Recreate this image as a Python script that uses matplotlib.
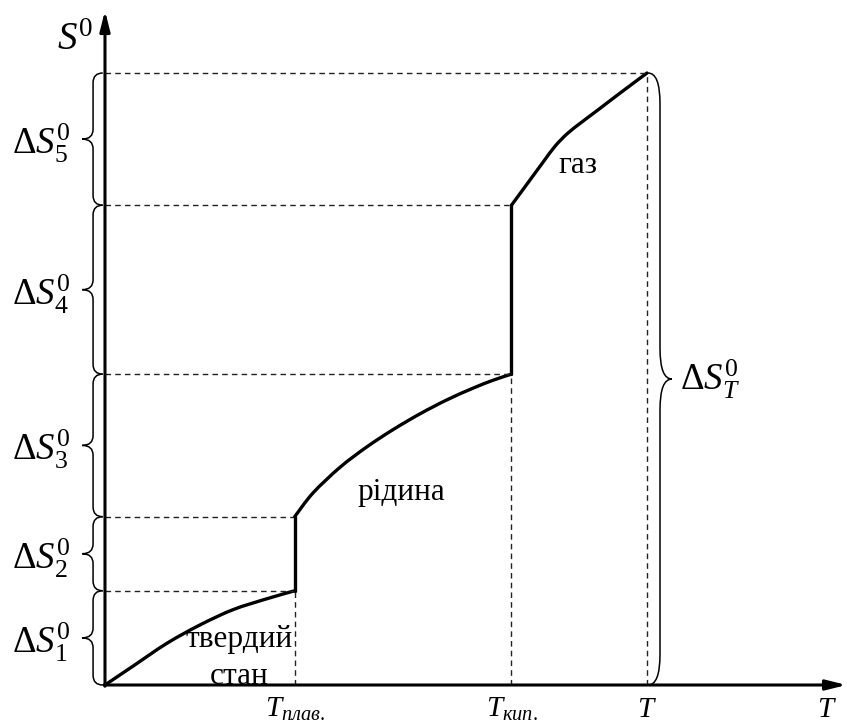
import matplotlib
matplotlib.use("Agg")
import matplotlib.pyplot as plt
from matplotlib.path import Path
from matplotlib.patches import PathPatch

plt.rcParams["mathtext.fontset"] = "custom"
plt.rcParams["mathtext.rm"] = "Liberation Serif"
plt.rcParams["mathtext.it"] = "Liberation Serif:italic"
plt.rcParams["mathtext.bf"] = "Liberation Serif:bold"
plt.rcParams["font.family"] = ["Liberation Serif", "DejaVu Serif"]

# Phase transition temperatures (arbitrary units) and the final temperature
T_melt = 35.0
T_boil = 75.0
T_final = 100.0

# Entropy at the transitions (arbitrary units)
S_solid_melt = 15.4
S_liquid_melt = 27.5
S_liquid_boil = 50.8
S_gas_boil = 78.4
S_final = 100.0

# S(T) for each phase
solid_T = [0.0, 5.2, 11.4, 17.5, 23.6, 29.9, 35.0]
solid_S = [0.0, 3.1, 6.8, 9.8, 12.3, 14.1, 15.4]
liquid_T = [35.0, 38.4, 43.4, 48.3, 53.1, 58.1, 63.1, 67.9, 71.6, 75.0]
liquid_S = [27.5, 31.4, 35.6, 38.9, 41.7, 44.3, 46.6, 48.5, 49.8, 50.8]
gas_T = [75.0, 77.9, 80.8, 83.0, 85.3, 88.0, 91.0, 95.0, 100.0]
gas_S = [78.4, 81.9, 85.4, 88.0, 90.1, 92.0, 94.0, 96.7, 100.0]

delta_labels = [r"$\Delta S_1^0$", r"$\Delta S_2^0$", r"$\Delta S_3^0$",
                r"$\Delta S_4^0$", r"$\Delta S_5^0$"]
levels = [0.0, S_solid_melt, S_liquid_melt, S_liquid_boil, S_gas_boil, S_final]

fig = plt.figure(figsize=(8.47, 7.26), dpi=100)
ax = fig.add_axes([0, 0, 1, 1])
ax.set_xlim(-19.37, 136.9)
ax.set_ylim(-6.70, 111.93)
ax.axis("off")

dash = dict(color="#222222", lw=1.0, ls=(0, (4, 3)))

# guide lines to the axes
for T, S in [(T_melt, S_solid_melt), (T_melt, S_liquid_melt),
             (T_boil, S_liquid_boil), (T_boil, S_gas_boil),
             (T_final, S_final)]:
    ax.plot([0, T], [S, S], **dash)
for T, S in [(T_melt, S_solid_melt), (T_boil, S_liquid_boil), (T_final, S_final)]:
    ax.plot([T, T], [0, S], **dash)

# axes with arrows
arrow = dict(arrowstyle="-|>,head_length=1.2,head_width=0.3", lw=2.2,
             color="black", shrinkA=0, shrinkB=0)
ax.annotate("", xy=(0, 110.2), xytext=(0, -0.2), arrowprops=arrow)
ax.annotate("", xy=(136.8, 0), xytext=(-0.2, 0), arrowprops=arrow)


def smooth_curve(xs, ys, **kw):
    """Catmull-Rom spline through the given points, drawn as cubic Beziers."""
    pts = list(zip(xs, ys))
    n = len(pts)
    verts = [pts[0]]
    codes = [Path.MOVETO]
    for i in range(n - 1):
        p0 = pts[i - 1] if i > 0 else pts[i]
        p1 = pts[i]
        p2 = pts[i + 1]
        p3 = pts[i + 2] if i + 2 < n else pts[i + 1]
        c1 = (p1[0] + (p2[0] - p0[0]) / 6, p1[1] + (p2[1] - p0[1]) / 6)
        c2 = (p2[0] - (p3[0] - p1[0]) / 6, p2[1] - (p3[1] - p1[1]) / 6)
        verts += [c1, c2, p2]
        codes += [Path.CURVE4] * 3
    ax.add_patch(PathPatch(Path(verts, codes), fc="none", **kw))


# entropy curve
curve = dict(color="black", lw=2.4, solid_capstyle="round", solid_joinstyle="round")
smooth_curve(solid_T, solid_S, ec="black", lw=2.4, capstyle="round")
ax.plot([T_melt, T_melt], [S_solid_melt, S_liquid_melt], **curve)
smooth_curve(liquid_T, liquid_S, ec="black", lw=2.4, capstyle="round")
ax.plot([T_boil, T_boil], [S_liquid_boil, S_gas_boil], **curve)
smooth_curve(gas_T, gas_S, ec="black", lw=2.4, capstyle="round")


def vbrace(y0, y1, x_end, x_line, x_tip, r, lw=1.1):
    ym = (y0 + y1) / 2
    verts = [(x_end, y0), (x_line, y0), (x_line, y0 + r),
             (x_line, ym - r), (x_line, ym), (x_tip, ym),
             (x_line, ym), (x_line, ym + r),
             (x_line, y1 - r), (x_line, y1), (x_end, y1)]
    codes = [Path.MOVETO, Path.CURVE3, Path.CURVE3,
             Path.LINETO, Path.CURVE3, Path.CURVE3,
             Path.CURVE3, Path.CURVE3,
             Path.LINETO, Path.CURVE3, Path.CURVE3]
    ax.add_patch(PathPatch(Path(verts, codes), fc="none", ec="black", lw=lw))
    return ym


fs_math = 26.5
for i, lab in enumerate(delta_labels):
    ym = vbrace(levels[i], levels[i + 1], -0.4, -2.2, -4.2, 1.6)
    ax.text(-6.3, ym - 2.45, lab, ha="right", va="baseline", fontsize=fs_math)

ym = vbrace(0, S_final, T_final + 0.2, 102.4, 104.6, 5.0)
ax.text(106.1, ym - 1.8, r"$\Delta S_T^0$", ha="left", va="baseline", fontsize=fs_math)

ax.text(-8.9, 103.8, r"$S^0$", ha="left", va="baseline", fontsize=28)

# temperature labels
fs_t = 21
ax.text(T_melt, -5.2, r"$T_{плав.}$", ha="center", va="baseline", fontsize=fs_t)
ax.text(T_boil, -5.2, r"$T_{кип.}$", ha="center", va="baseline", fontsize=fs_t)
ax.text(T_final, -5.2, r"$T$", ha="center", va="baseline", fontsize=fs_t)
ax.text(133.2, -5.2, r"$T$", ha="center", va="baseline", fontsize=fs_t)

# phase names
fs_ph = 22.5
ax.text(24.7, 6.2, "твердий", ha="center", va="baseline", fontsize=fs_ph)
ax.text(24.7, 0.16, "стан", ha="center", va="baseline", fontsize=fs_ph)
ax.text(54.6, 30.2, "рідина", ha="center", va="baseline", fontsize=fs_ph)
ax.text(87.3, 83.7, "газ", ha="center", va="baseline", fontsize=fs_ph)

fig.savefig("out.png", dpi=100)
